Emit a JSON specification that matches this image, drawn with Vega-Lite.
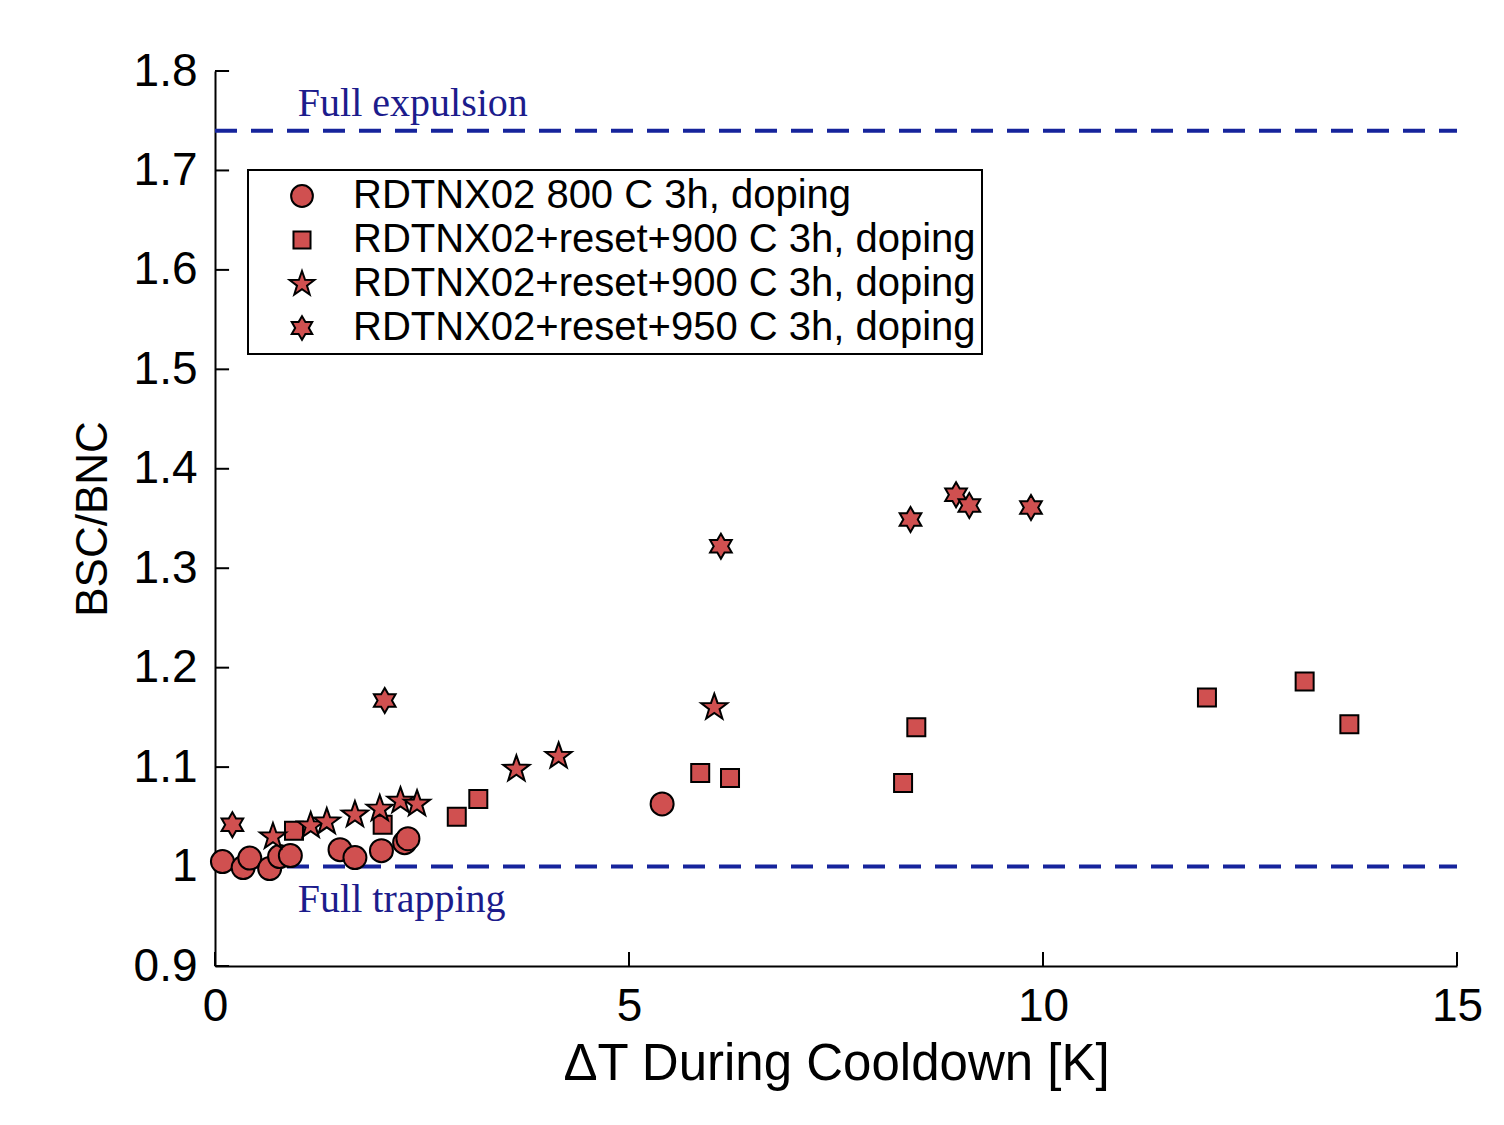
{
  "$schema": "https://vega.github.io/schema/vega-lite/v6.json",
  "width": 1242,
  "height": 895,
  "autosize": {"type": "none"},
  "padding": {"left": 215, "top": 71, "right": 47, "bottom": 159},
  "background": "white",
  "config": {"view": {"stroke": null}, "font": "Liberation Sans", "legend": {"strokeWidth": 2}},
  "encoding": {
    "x": {
      "field": "x", "type": "quantitative",
      "scale": {"domain": [0, 15], "nice": false, "zero": false},
      "axis": {
        "title": "ΔT During Cooldown [K]", "values": [0, 5, 10, 15], "grid": false,
        "domainColor": "black", "domainWidth": 2, "ticks": false,
        "labelFont": "Liberation Sans", "labelFontSize": 46, "labelColor": "black", "labelPadding": 18, "labelFlush": false, "labelOverlap": false,
        "titleFont": "Liberation Sans", "titleFontSize": 51, "titleFontWeight": "normal", "titleColor": "black", "titlePadding": 10
      }
    },
    "y": {
      "field": "y", "type": "quantitative",
      "scale": {"domain": [0.9, 1.8], "nice": false, "zero": false},
      "axis": {
        "title": "BSC/BNC", "values": [0.9, 1.0, 1.1, 1.2, 1.3, 1.4, 1.5, 1.6, 1.7, 1.8], "format": ".1~f", "grid": false,
        "domainColor": "black", "domainWidth": 2, "ticks": false,
        "labelFont": "Liberation Sans", "labelFontSize": 46, "labelColor": "black", "labelPadding": 18, "labelFlush": false, "labelOverlap": false,
        "titleFont": "Liberation Sans", "titleFontSize": 44, "titleFontWeight": "normal", "titleColor": "black", "titlePadding": 18
      }
    }
  },
  "layer": [
    {
      "data": {"values": [
        {"x": 0, "x2": 0, "y": 0.9, "y2": 0.914},
        {"x": 5, "x2": 5, "y": 0.9, "y2": 0.914},
        {"x": 10, "x2": 10, "y": 0.9, "y2": 0.914},
        {"x": 15, "x2": 15, "y": 0.9, "y2": 0.914},
        {"x": 0, "x2": 0.17, "y": 0.9, "y2": 0.9},
        {"x": 0, "x2": 0.17, "y": 1.0, "y2": 1.0},
        {"x": 0, "x2": 0.17, "y": 1.1, "y2": 1.1},
        {"x": 0, "x2": 0.17, "y": 1.2, "y2": 1.2},
        {"x": 0, "x2": 0.17, "y": 1.3, "y2": 1.3},
        {"x": 0, "x2": 0.17, "y": 1.4, "y2": 1.4},
        {"x": 0, "x2": 0.17, "y": 1.5, "y2": 1.5},
        {"x": 0, "x2": 0.17, "y": 1.6, "y2": 1.6},
        {"x": 0, "x2": 0.17, "y": 1.7, "y2": 1.7},
        {"x": 0, "x2": 0.17, "y": 1.8, "y2": 1.8}
      ]},
      "mark": {"type": "rule", "color": "black", "strokeWidth": 2},
      "encoding": {"x2": {"field": "x2"}, "y2": {"field": "y2"}}
    },
    {
      "data": {"values": [{"x": 0, "x2": 15, "y": 1.74}, {"x": 0, "x2": 15, "y": 1.0}]},
      "mark": {"type": "rule", "color": "#16249c", "strokeWidth": 4, "strokeDash": [22, 14]},
      "encoding": {"x2": {"field": "x2"}}
    },
    {
      "data": {"values": [{"x": 1.0, "y": 1.767, "label": "Full expulsion"}, {"x": 1.0, "y": 0.966, "label": "Full trapping"}]},
      "mark": {"type": "text", "align": "left", "baseline": "middle", "font": "Liberation Serif", "fontSize": 40, "color": "#1c1c8c"},
      "encoding": {"text": {"field": "label"}}
    },
    {
      "data": {"values": [
        {"series": "A", "x": 0.09, "y": 1.005},
        {"series": "A", "x": 0.34, "y": 0.999},
        {"series": "A", "x": 0.42, "y": 1.0085},
        {"series": "A", "x": 0.66, "y": 0.998},
        {"series": "A", "x": 0.78, "y": 1.01},
        {"series": "A", "x": 0.91, "y": 1.011},
        {"series": "A", "x": 1.51, "y": 1.017},
        {"series": "A", "x": 1.69, "y": 1.009},
        {"series": "A", "x": 2.01, "y": 1.016},
        {"series": "A", "x": 2.29, "y": 1.024},
        {"series": "A", "x": 2.33, "y": 1.028},
        {"series": "A", "x": 5.40, "y": 1.063},
        {"series": "B", "x": 0.954, "y": 1.036},
        {"series": "B", "x": 2.025, "y": 1.042},
        {"series": "B", "x": 2.92, "y": 1.05},
        {"series": "B", "x": 3.18, "y": 1.068},
        {"series": "B", "x": 5.86, "y": 1.094},
        {"series": "B", "x": 6.22, "y": 1.089},
        {"series": "B", "x": 8.31, "y": 1.084},
        {"series": "B", "x": 8.47, "y": 1.14},
        {"series": "B", "x": 11.98, "y": 1.17},
        {"series": "B", "x": 13.16, "y": 1.186},
        {"series": "B", "x": 13.70, "y": 1.143},
        {"series": "C", "x": 0.70, "y": 1.03},
        {"series": "C", "x": 1.156, "y": 1.041},
        {"series": "C", "x": 1.35, "y": 1.045},
        {"series": "C", "x": 1.69, "y": 1.052},
        {"series": "C", "x": 1.99, "y": 1.058},
        {"series": "C", "x": 2.24, "y": 1.066},
        {"series": "C", "x": 2.44, "y": 1.063},
        {"series": "C", "x": 3.64, "y": 1.098},
        {"series": "C", "x": 4.15, "y": 1.111},
        {"series": "C", "x": 6.03, "y": 1.16},
        {"series": "D", "x": 0.21, "y": 1.042},
        {"series": "D", "x": 2.05, "y": 1.167},
        {"series": "D", "x": 6.11, "y": 1.322},
        {"series": "D", "x": 8.40, "y": 1.349},
        {"series": "D", "x": 8.95, "y": 1.374},
        {"series": "D", "x": 9.11, "y": 1.363},
        {"series": "D", "x": 9.855, "y": 1.361}
      ]},
      "mark": {"type": "point", "filled": true, "strokeWidth": 2, "opacity": 1, "size": 625},
      "encoding": {
        "shape": {
          "field": "series", "type": "nominal",
          "scale": {"domain": ["A", "B", "C", "D"], "range": [
            "M0.92,0A0.92,0.92,0,1,1,-0.92,0A0.92,0.92,0,1,1,0.92,0Z",
            "M-0.72,-0.72L0.72,-0.72L0.72,0.72L-0.72,0.72Z",
            "M0,-1.1L0.26,-0.36L1.05,-0.34L0.42,0.14L0.65,0.89L0,0.44L-0.65,0.89L-0.42,0.14L-1.05,-0.34L-0.26,-0.36Z",
            "M0,-1L0.289,-0.5L0.866,-0.5L0.577,0L0.866,0.5L0.289,0.5L0,1L-0.289,0.5L-0.866,0.5L-0.577,0L-0.866,-0.5L-0.289,-0.5Z"
          ]},
          "legend": {
            "title": null, "orient": "none", "legendX": 33, "legendY": 99,
            "labelExpr": "datum.label == 'A' ? 'RDTNX02 800 C 3h, doping' : datum.label == 'D' ? 'RDTNX02+reset+950 C 3h, doping' : 'RDTNX02+reset+900 C 3h, doping'",
            "labelFont": "Liberation Sans", "labelFontSize": 40, "labelColor": "black", "labelLimit": 1000,
            "strokeColor": "black", "fillColor": "white", "padding": 6,
            "rowPadding": 4, "symbolOffset": 28, "labelOffset": 31, "symbolSize": 560, "symbolStrokeWidth": 2
          }
        },
        "fill": {
          "field": "series", "type": "nominal",
          "scale": {"domain": ["A", "B", "C", "D"], "range": ["#d05050", "#d05050", "#d05050", "#d05050"]},
          "legend": {
            "title": null, "orient": "none", "legendX": 33, "legendY": 99,
            "labelExpr": "datum.label == 'A' ? 'RDTNX02 800 C 3h, doping' : datum.label == 'D' ? 'RDTNX02+reset+950 C 3h, doping' : 'RDTNX02+reset+900 C 3h, doping'",
            "labelFont": "Liberation Sans", "labelFontSize": 40, "labelColor": "black", "labelLimit": 1000,
            "strokeColor": "black", "fillColor": "white", "padding": 6,
            "rowPadding": 4, "symbolOffset": 28, "labelOffset": 31, "symbolSize": 560, "symbolStrokeWidth": 2
          }
        },
        "stroke": {
          "field": "series", "type": "nominal",
          "scale": {"domain": ["A", "B", "C", "D"], "range": ["black", "black", "black", "black"]},
          "legend": {
            "title": null, "orient": "none", "legendX": 33, "legendY": 99,
            "labelExpr": "datum.label == 'A' ? 'RDTNX02 800 C 3h, doping' : datum.label == 'D' ? 'RDTNX02+reset+950 C 3h, doping' : 'RDTNX02+reset+900 C 3h, doping'",
            "labelFont": "Liberation Sans", "labelFontSize": 40, "labelColor": "black", "labelLimit": 1000,
            "strokeColor": "black", "fillColor": "white", "padding": 6,
            "rowPadding": 4, "symbolOffset": 28, "labelOffset": 31, "symbolSize": 560, "symbolStrokeWidth": 2
          }
        }
      }
    }
  ]
}
